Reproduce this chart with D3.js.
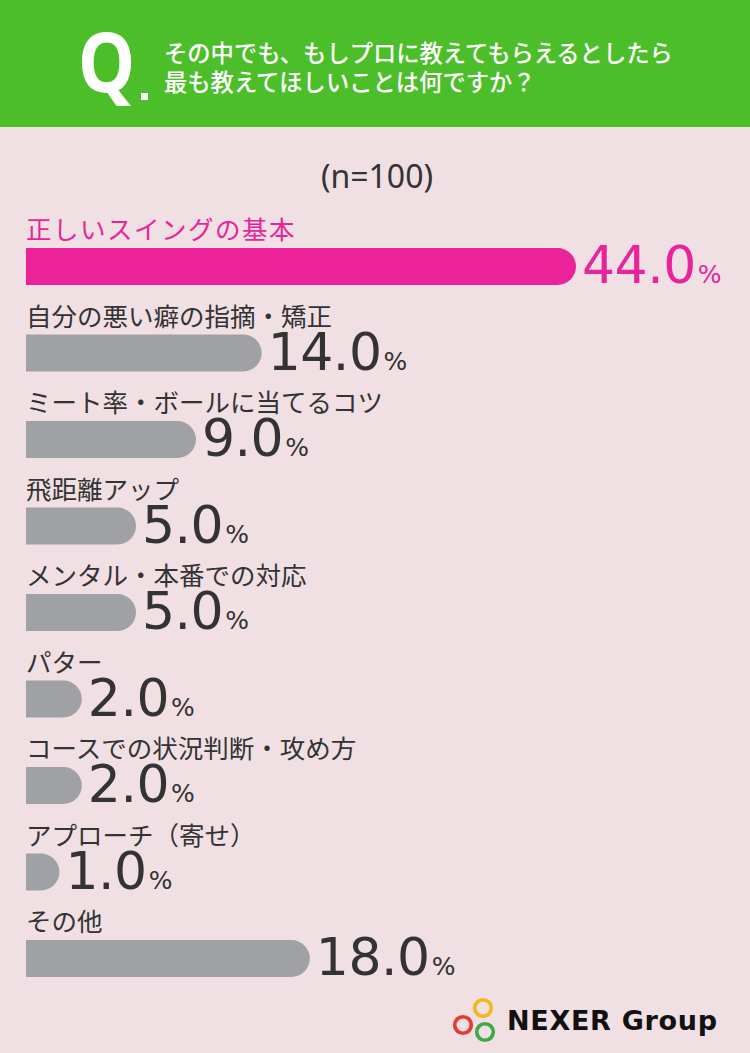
<!DOCTYPE html>
<html><head><meta charset="utf-8">
<script src="https://cdn.jsdelivr.net/npm/d3@7"></script>
<style>
html,body{margin:0;padding:0;background:#F0DFE3;}
svg{display:block;}
</style></head>
<body>
<script>
const categories = ["正しいスイングの基本","自分の悪い癖の指摘・矯正","ミート率・ボールに当てるコツ","飛距離アップ","メンタル・本番での対応","パター","コースでの状況判断・攻め方","アプローチ（寄せ）","その他"];
const values = [44.0,14.0,9.0,5.0,5.0,2.0,2.0,1.0,18.0];
const titleLines = ["その中でも、もしプロに教えてもらえるとしたら","最も教えてほしいことは何ですか？"];
const sampleLabel = "(n=100)";

const W = 750, H = 1053;
const svg = d3.select("body").append("svg").attr("width", W).attr("height", H);
const jp = "'Noto Sans CJK JP','Noto Sans',sans-serif";
const num = "'DejaVu Sans','Noto Sans',sans-serif";

svg.append("rect").attr("width", W).attr("height", H).attr("fill", "#F0DFE3");
svg.append("rect").attr("width", W).attr("height", 127).attr("fill", "#4CBE2A");

// Q mark
svg.append("text").attr("x", 0).attr("y", 0).attr("fill", "#fff")
  .attr("font-family", "'Noto Sans','Roboto',sans-serif").attr("font-weight", 700)
  .attr("font-size", 82).attr("transform","translate(78,92) scale(0.88,1)").text("Q");
svg.append("rect").attr("x", 141).attr("y", 93).attr("width", 7).attr("height", 7).attr("fill", "#fff");

svg.selectAll("text.title").data(titleLines).join("text").attr("class","title")
  .attr("x", 164).attr("y", (d,i) => 62 + i*29)
  .attr("fill", "#fff").attr("font-family", jp).attr("font-weight", 500)
  .attr("font-size", 23.3).text(d => d);

svg.append("text").attr("x", 377).attr("y", 188).attr("text-anchor","middle")
  .attr("fill", "#333").attr("font-family", "'Noto Sans',sans-serif").attr("font-size", 32)
  .text(sampleLabel);

const y = d3.scalePoint().domain(categories).range([248, 940]);
const barH = 37;
const x = d3.scalePow().exponent(0.74).domain([0, 44]).range([0, 550]);
const x0 = 26;

function barPath(w, h) {
  const r = Math.min(h/2, w);
  return `M0,0H${w - r}A${r},${r} 0 0 1 ${w},${r}V${h - r}A${r},${r} 0 0 1 ${w - r},${h}H0Z`;
}

const rows = svg.selectAll("g.row").data(categories).join("g").attr("class","row")
  .attr("transform", d => `translate(${x0},${y(d)})`);

rows.append("text").attr("x", 0).attr("y", -9)
  .attr("fill", (d,i) => i === 0 ? "#E8249A" : "#333")
  .attr("font-family", jp).attr("font-size", 25.5)
  .attr("letter-spacing", (d,i) => i === 0 ? 1.5 : 0).text(d => d);

rows.append("path").attr("d", (d,i) => barPath(x(values[i]), barH))
  .attr("fill", (d,i) => i === 0 ? "#EC2299" : "#A0A1A5");

const vt = rows.append("text")
  .attr("x", (d,i) => x(values[i]) + 6).attr("y", barH - 2)
  .attr("fill", (d,i) => i === 0 ? "#E8249A" : "#333")
  .attr("font-family", num);
vt.append("tspan").attr("font-size", 52).attr("letter-spacing", -0.5).text((d,i) => values[i].toFixed(1));
vt.append("tspan").attr("font-size", 25).attr("dx", 2).text("%");

// Logo
const logo = svg.append("g");
[[483,1008,"#F2B81D"],[463,1025,"#E53B2F"],[485,1032,"#3DAA44"]].forEach(c => {
  logo.append("circle").attr("cx", c[0]).attr("cy", c[1]).attr("r", 8.3)
    .attr("fill","none").attr("stroke", c[2]).attr("stroke-width", 3.6);
});
logo.append("text").attr("x", 507).attr("y", 1030).attr("fill","#111")
  .attr("font-family","'DejaVu Sans',sans-serif").attr("font-weight",700)
  .attr("font-size", 27).attr("textLength", 210).attr("lengthAdjust","spacing").text("NEXER Group");
</script>
</body></html>
